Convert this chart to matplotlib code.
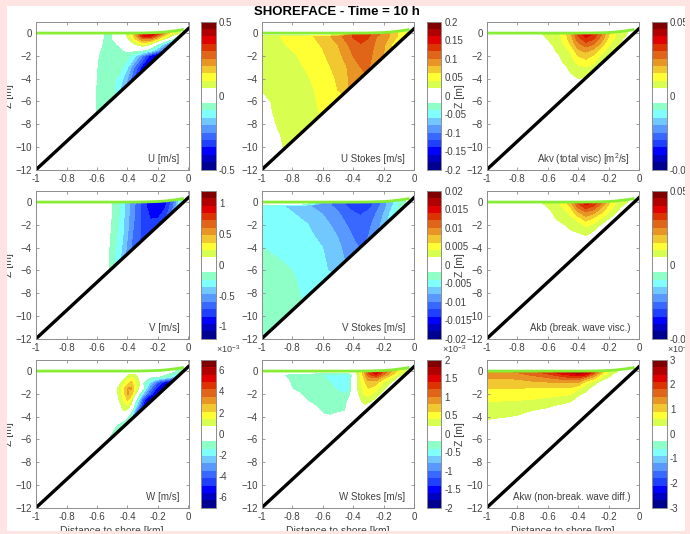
import numpy as np
import matplotlib
matplotlib.use("Agg")
import matplotlib.pyplot as plt
from matplotlib.cm import ScalarMappable
from matplotlib.colors import BoundaryNorm, ListedColormap
from matplotlib.patches import Polygon, Rectangle

plt.rcParams['font.family'] = ['Liberation Sans', 'DejaVu Sans']
plt.rcParams['mathtext.default'] = 'regular'

# colours of the 20 bands, bottom to top
band_colors = ['#000090', '#0000c0', '#0000ff', '#2040ff', '#3868ff', '#5898ff', '#70c8ff',
               '#80ffff', '#8fffc8', '#ffffff', '#ffffff', '#d8ff50', '#ffff33', '#f2c830',
               '#e89525', '#e06518', '#dd3300', '#e00000', '#b00000', '#800000']

# surface and bottom lines
surf_x = [-1, -0.8, -0.6, -0.4, -0.3, -0.2, -0.15, -0.1, -0.05, -0.04]
surf_z = [0, 0, 0, 0, 0.01, 0.05, 0.1, 0.18, 0.27, 0.3]
bottom_x = [-1, 0]
bottom_z = [-12, 0.4]

u_x = [-0.65, -0.6, -0.55, -0.5, -0.45, -0.4, -0.35, -0.3, -0.25, -0.2, -0.15, -0.1, -0.05, 0]
u_z = [0, -0.25, -0.5, -1, -1.5, -2, -3, -4, -5, -6, -7]
u_vals = [
    [0, 0, -1.1, -1.0, 0, 1.3, 4, 7.5, 8, 6.5, 4, 2, 1, 0],
    [0, -0.1, -1.15, -1.0, -0.3, 1.1, 3.5, 7, 7.2, 5, 2.5, 0.5, -3, -5],
    [0, -0.3, -1.2, -1.0, -0.5, 0.9, 3, 5, 5, 3, 1, -1.5, -5, -7],
    [0, -0.5, -1.3, -1.2, -0.9, 0, 1, 2, 1, -1.6, -4, -7, -9, -10],
    [0, -0.7, -1.4, -1.3, -1.2, -0.8, -0.8, -1.1, -2, -4, -6.5, -9, -10],
    [0, -0.9, -1.5, -1.4, -1.5, -1.6, -2.8, -5, -7.5, -9.5, -10],
    [0, -1, -1.5, -1.5, -1.6, -2.9, -5.3, -7.7, -10],
    [0, -1.1, -1.5, -1.6, -2.4, -4, -6.5, -9, -10],
    [0, -1.2, -1.5, -1.7, -3, -5, -8, -10],
    [0, -1.3, -1.4, -1.7, -3],
    [0, -1.2, -1.3],
]

us_x = [-1, -0.9, -0.8, -0.7, -0.6, -0.5, -0.4, -0.35, -0.3, -0.25, -0.2, -0.15, -0.1, -0.05, 0]
us_z = [-0.15, -0.3, -1, -2, -3, -4, -5, -6, -7, -8, -9, -10, -12]
us_vals = [
    [0, 0, 0, 0, 0, 1, 6.1, 6.6, 6.3, 5.3, 4.6, 3.8, 2.8, 1.8, 1],
    [1.9, 1.9, 2.4, 2.7, 3.4, 4.55, 6.1, 6.5, 6.1, 5.05, 4.5, 3.8, 2.7, 1.8, 1],
    [1.8, 1.75, 2.2, 2.6, 3.1, 4, 5.5, 5.9, 5.6, 4.8, 4.2, 3, 2, 1, 0],
    [1.6, 1.6, 1.85, 2.3, 2.85, 3.64, 5, 5.5, 5.3, 4.6, 3.9, 3, 2, 1, 0],
    [1.4, 1.45, 1.7, 2.1, 2.65, 3.33, 4.45, 5, 5.05, 4.5, 3.9, 3, 2, 1, 0],
    [1.25, 1.35, 1.55, 1.9, 2.45, 3.13, 4.4, 4.8, 5, 4.5],
    [1.03, 1.25, 1.45, 1.75, 2.3, 3, 4.4],
    [0.7, 1.2, 1.4, 1.7, 2.2, 3],
    [0.6, 1.15, 1.35, 1.65, 2.1, 3],
    [0.4, 1.03, 1.3, 1.6, 2.1],
    [0.2, 0.9, 1.3, 1.6],
    [0.1, 0.8, 1.3],
    [0, 0.7, 1.3],
]

akv_x = [-0.7, -0.65, -0.6, -0.55, -0.5, -0.45, -0.4, -0.35, -0.3, -0.25, -0.2, -0.15, -0.1, -0.05, 0]
akv_z = [0, -0.5, -1, -1.5, -2, -2.5, -3, -3.5, -4, -4.5]
akv_vals = [
    [0, 0.95, 1.3, 1.6, 2.3, 3.8, 6.5, 7.8, 7.1, 5.3, 3.2, 2, 1.3, 0.7, 0],
    [0, 0.3, 1.05, 1.4, 2.1, 3.5, 5.5, 6.7, 6.1, 4.5, 2.7, 1.7, 0.9, 0],
    [0, 0, 0.7, 1.2, 1.85, 3, 4.7, 5.5, 5, 3.6, 2.1, 1.3, 0.3, 0],
    [0, 0, 0.3, 1, 1.5, 2.2, 3.85, 4.3, 3.8, 2.6, 1.5, 0.7, 0],
    [0, 0, 0, 0.6, 1.3, 1.8, 3, 3.4, 2.9, 1.75, 0.8, 0],
    [0, 0, 0, 0, 1.05, 1.55, 2.3, 2.7, 2.3, 1.05, 0],
    [0, 0, 0, 0, 0.6, 1.3, 1.8, 1.9, 1.6, 0.3, 0],
    [0, 0, 0, 0, 0, 1, 1.4, 1.3, 0.9, 0],
    [0, 0, 0, 0, 0, 0.5, 1, 0.8, 0],
    [0, 0, 0, 0, 0, 0, 0.5, 0],
]

v_x = [-0.55, -0.5, -0.45, -0.4, -0.35, -0.3, -0.25, -0.2, -0.15, -0.1, -0.05, 0]
v_z = [0, -0.5, -1, -1.5, -2, -3, -4, -5, -6]
v_vals = [
    [0, -1.05, -2.05, -3.6, -5, -6.4, -7.5, -8, -7.2, -5.5, -2, -0.5],
    [0, -1.1, -2.1, -3.65, -5.05, -6.4, -7.5, -7.8, -7, -5, -2, -0.5],
    [0, -1.15, -2.1, -3.7, -5.1, -6.4, -7.2, -7.4, -6.6, -4.5, -2, -0.5],
    [0, -1.2, -2.15, -3.75, -5.2, -6.35, -7, -6.95, -6, -4],
    [-0.1, -1.25, -2.2, -3.8, -5.3, -6.3, -6.8, -6.5, -5.5, -4],
    [-0.2, -1.4, -2.35, -4, -5.6, -6.2, -6.5],
    [-0.3, -1.55, -2.6, -4.3, -5.9, -6.2],
    [-0.35, -1.7, -2.9, -4.5],
    [-0.4, -1.75, -3],
]

vs_x = [-1, -0.9, -0.8, -0.7, -0.6, -0.5, -0.45, -0.4, -0.35, -0.3, -0.25, -0.2, -0.15, -0.1, -0.05, 0]
vs_z = [-0.15, -0.3, -1, -2, -3, -4, -5, -6, -7, -8, -9, -10, -12]
vs_vals = [
    [0, 0, 0, -1, -4.6, -5.3, -6, -6.4, -6.6, -6.4, -5.6, -4.5, -3.3, -2, -1, 0],
    [-2.5, -2.8, -3.25, -3.9, -4.6, -5.3, -6, -6.4, -6.6, -6.4, -5.6, -4.5, -3.3, -2, -1, 0],
    [-2.4, -2.7, -2.95, -3.4, -4.05, -4.9, -5.35, -5.9, -6.1, -5.75, -5, -4, -2.7, -1.5, -1, 0],
    [-2.3, -2.45, -2.7, -2.97, -3.55, -4.45, -4.95, -5.4, -5.6, -5.3, -4.5, -3.6, -2.4, -1.3, -1, 0],
    [-2.15, -2.25, -2.5, -2.8, -3.25, -4.05, -4.6, -5.05, -5.25, -5, -4.2, -3.4],
    [-2, -2.1, -2.3, -2.7, -3, -3.75, -4.3, -4.75, -5.1, -4.8],
    [-1.85, -1.98, -2.15, -2.6, -2.9, -3.55, -4.1, -4.6],
    [-1.7, -1.8, -2, -2.5, -2.8, -3.4],
    [-1.6, -1.7, -1.85, -2.35, -2.75],
    [-1.5, -1.6, -1.75, -2.25, -2.7],
    [-1.4, -1.55, -1.7, -2.2],
    [-1.3, -1.5, -1.6],
    [-1.05, -1.4],
]

akb_x = akv_x
akb_z = [0, -0.5, -1, -1.5, -2, -2.5, -3, -3.5]
akb_vals = [
    [0, 0.95, 1.3, 1.7, 2.4, 3.8, 6.3, 7.8, 7.1, 5.3, 3.2, 2, 1.3, 0.7, 0],
    [0, 0.3, 0.95, 1.45, 2, 2.9, 5, 6.2, 5.5, 4, 2.6, 1.5, 0.5, 0],
    [0, 0, 0.5, 1.2, 1.6, 2.1, 3.7, 4.5, 4.1, 2.9, 1.8, 0.9, 0],
    [0, 0, 0, 0.95, 1.3, 1.6, 2.3, 3.4, 2.6, 1.9, 0.9, 0.3, 0],
    [0, 0, 0, 0.5, 0.9, 1.25, 1.6, 2.2, 1.85, 0.9, 0.3, 0],
    [0, 0, 0, 0, 0.4, 0.95, 1.15, 1.5, 1.05, 0.3, 0],
    [0, 0, 0, 0, 0, 0.4, 0.7, 0.95, 0.5, 0],
    [0],
]

w_x = [-0.6, -0.55, -0.5, -0.475, -0.45, -0.425, -0.4, -0.375, -0.35, -0.325, -0.3, -0.275,
       -0.25, -0.225, -0.2, -0.15, -0.1, -0.05, 0]
w_z = [0, -0.5, -1, -1.5, -2, -2.5, -3, -3.5, -4, -5, -6, -6.5]
w_vals = [
    [0, 0, 0, 0, 0, 0, 0, 0, 0, 0, 0, 0, 0, 0, 0, -0.3, -0.9, -1.5, -2],
    [0, 0, 0, 0, 0, 0.3, 1.3, 1.9, 1.5, 0.6, 0, -0.3, -0.9, -1.05, -1.05, -1.7, -3, -8, -10],
    [0, 0, 0, 0, 0.6, 1.7, 2.4, 3.2, 2.2, 1.1, -1, -2, -3.3, -4.5, -6, -8, -10],
    [0, 0, 0, 0.5, 1.6, 2.6, 4, 4.2, 2.4, 1, -0.7, -3, -4.7, -6.3, -7.6, -10],
    [0, 0, 0, 0.6, 1.5, 2.5, 4.2, 3.5, 1.3, -1, -3, -5, -6.3, -7.7, -9.5, -10],
    [0, 0, 0, 0.2, 1.2, 2.2, 3.1, 1.9, -0.6, -3, -6, -8, -10],
    [0, 0, 0, 0, 0.7, 1.6, 2, 0.8, -2, -4.5, -7, -9.5, -10],
    [0, 0, 0, 0, 0.1, 1, 0.4, -0.8, -4, -7, -10],
    [0, 0, -0.1, -0.2, -0.3, -0.5, -1, -2.6, -4.5, -8, -10],
    [0, -0.2, -0.8, -1.2, -1.7, -2, -3],
    [0, -0.8, -1.5],
    [0],
]

ws_x = [-0.9, -0.85, -0.8, -0.7, -0.6, -0.55, -0.5, -0.45, -0.425, -0.4, -0.375, -0.35, -0.325,
        -0.3, -0.25, -0.2, -0.15, -0.1, -0.05, 0]
ws_z = [0, -0.3, -0.6, -1, -1.5, -2, -2.5, -3, -3.5, -4, -4.5]
ws_vals = [
    [0, 0, 0, 0, 0, 0, 0, 0, 0, 0, 1.1, 2.5, 4, 6.5, 8.2, 6, 4, 2.5, 1, 0],
    [-0.6, -1.1, -1.3, -1.6, -2.05, -2.2, -2.3, -2.4, -2.2, -0.5, 1, 2.2, 3.7, 5.7, 7, 5, 3.3, 1.6, 0],
    [-0.4, -0.9, -1.25, -1.55, -1.9, -2.2, -2.4, -2.5, -2.3, -0.4, 1, 2.1, 3.3, 4.6, 5, 3.3, 2, 0.5, 0],
    [0, -0.7, -1.15, -1.45, -1.8, -2, -2.3, -2.5, -2.2, -0.3, 0.9, 1.9, 2.8, 3.7, 3.4, 1.9, 1, 0],
    [0, -0.3, -1.05, -1.35, -1.65, -1.85, -2.1, -2.4, -2.1, -0.2, 0.9, 1.8, 2.4, 3, 2.4, 1.2, 0.3, 0],
    [0, 0, -0.7, -1.25, -1.5, -1.7, -1.9, -2, -1.5, -0.1, 0.7, 1.4, 2.1, 2.3, 1.6, 0.4, 0],
    [0, 0, -0.2, -1.1, -1.35, -1.5, -1.6, -1.5, -0.8, 0, 0.3, 1, 1.7, 1.6, 0.7, 0],
    [0, 0, 0, -0.8, -1.25, -1.3, -1.35, -1.2, -0.4, 0, 0, 0.5, 0.9, 0.5, 0],
    [0, 0, 0, -0.3, -1.1, -1.2, -1.15, -1, 0],
    [0, 0, 0, 0, -0.9, -0.95, -0.7, -0.3, 0],
    [0],
]

akw_x = [-1, -0.9, -0.8, -0.7, -0.6, -0.5, -0.45, -0.4, -0.35, -0.3, -0.25, -0.2, -0.15, -0.1]
akw_z = [0, -0.3, -0.6, -1, -1.5, -2, -2.5, -3, -3.5, -4, -4.5, -5]
akw_vals = [
    [4.6, 4.8, 5.3, 5.9, 6.8, 8.2, 8.8, 9.2, 8.6, 7, 4.2, 2, 1.2, 0],
    [4.3, 4.4, 4.6, 5.2, 5.8, 6.9, 7.3, 7.9, 7.2, 5, 2.8, 1.5, 0.4, 0],
    [4.05, 4.05, 4.15, 4.5, 4.9, 5.5, 5.8, 5.8, 4.6, 3.4, 1.9, 0.8, 0],
    [3.6, 3.6, 3.6, 3.8, 3.9, 4, 4, 4, 2.4, 1.6, 0.4, 0],
    [3, 3, 3, 2.95, 2.9, 2.85, 2.85, 2.2, 1.5, 0.5, 0],
    [2.5, 2.5, 2.5, 2.5, 2.4, 2.2, 2.1, 1.3, 0.7, 0],
    [2.1, 2.1, 2.05, 1.98, 1.75, 1.6, 1.3, 0.5, 0],
    [1.8, 1.7, 1.65, 1.5, 1.2, 0.8, 0.5, 0],
    [1.5, 1.4, 1.3, 0.95, 0.7, 0.3, 0],
    [1.2, 1.08, 0.9, 0.5, 0.3, 0],
    [0.8, 0.5, 0.3, 0],
    [0],
]

titles = ['U [m/s]', 'U Stokes [m/s]', 'Akv (total visc) [m$^2$/s]',
          'V [m/s]', 'V Stokes [m/s]', 'Akb (break. wave visc.)',
          'W [m/s]', 'W Stokes [m/s]', 'Akw (non-break. wave diff.)']
vmaxs = [0.5, 0.2, 0.05, 1.2, 0.02, 0.05, 7, 2, 3]
cbar_ticks = [[-0.5, 0, 0.5],
              [-0.2, -0.15, -0.1, -0.05, 0, 0.05, 0.1, 0.15, 0.2],
              [-0.05, 0, 0.05],
              [-1, -0.5, 0, 0.5, 1],
              [-0.02, -0.015, -0.01, -0.005, 0, 0.005, 0.01, 0.015, 0.02],
              [-0.05, 0, 0.05],
              [-6, -4, -2, 0, 2, 4, 6],
              [-2, -1.5, -1, -0.5, 0, 0.5, 1, 1.5, 2],
              [-3, -2, -1, 0, 1, 2, 3]]
fields = [(u_x, u_z, u_vals), (us_x, us_z, us_vals), (akv_x, akv_z, akv_vals),
          (v_x, v_z, v_vals), (vs_x, vs_z, vs_vals), (akb_x, akb_z, akb_vals),
          (w_x, w_z, w_vals), (ws_x, ws_z, ws_vals), (akw_x, akw_z, akw_vals)]

# pixel boxes of the panels
W, H = 690, 534
col_left = [36, 261.7, 486.7]
col_width = 152.5
cbar_left = [201, 426.7, 652]
cbar_width = 14.5
row_top = [21.7, 190.7, 359.7]
row_height = 148
text_color = '#404040'
edge_color = '#8c8c8c'


def box(x0, y0, w, h):
    return [x0 / W, 1 - (y0 + h) / H, w / W, h / H]


def fill_rows(rows, n):
    # rows may stop early once they are below the bottom, the last value is kept
    return np.array([r + [r[-1]] * (n - len(r)) for r in rows], dtype=float)


fig = plt.figure(figsize=(W / 100, H / 100), dpi=100, facecolor='white')
levels = np.linspace(-10, 10, 21)
bottom_end = np.interp(surf_x[-1], bottom_x, bottom_z)
wet = np.column_stack([surf_x + [surf_x[-1], bottom_x[0]], surf_z + [bottom_end, bottom_z[0]]])

for i in range(9):
    row, col = i // 3, i % 3
    ax = fig.add_axes(box(col_left[col], row_top[row], col_width, row_height))
    x, z, vals = fields[i]
    # first row is copied up to reach the raised surface near the shore
    grid = fill_rows(vals, len(x))
    grid = np.vstack([grid[0], grid])
    zz = np.array([0.5] + z)
    cs = ax.contourf(x, zz, np.clip(grid, -9.99, 9.99), levels=levels, colors=band_colors)
    cs.set_clip_path(Polygon(wet, transform=ax.transData))
    ax.plot(surf_x, surf_z, color='#88ee33', lw=2)
    ax.plot(bottom_x, bottom_z, color='black', lw=2.4)

    ax.set_xlim(-1, 0)
    ax.set_ylim(-12, 1)
    ax.set_xticks(np.arange(-1, 0.01, 0.2))
    ax.set_xticklabels(['-1', '-0.8', '-0.6', '-0.4', '-0.2', '0'])
    ax.set_yticks(np.arange(-12, 0.01, 2))
    ax.tick_params(direction='in', top=True, right=True, length=2, width=0.6,
                   color=edge_color, labelsize=7, labelcolor=text_color, pad=3)
    for s in ax.spines.values():
        s.set_color(edge_color)
        s.set_linewidth(0.7)
    ax.text(-0.06, -11.1, titles[i], ha='right', va='center', fontsize=7, color=text_color)
    if col != 1:
        ax.set_ylabel('Z [m]', fontsize=7.5, color=text_color, labelpad=1)
    if row == 2:
        ax.set_xlabel('Distance to shore [km]', fontsize=7.5, color=text_color, labelpad=3)

    cax = fig.add_axes(box(cbar_left[col], row_top[row], cbar_width, row_height))
    norm = BoundaryNorm(levels * vmaxs[i] / 10, 20)
    sm = ScalarMappable(norm=norm, cmap=ListedColormap(band_colors))
    cb = fig.colorbar(sm, cax=cax, ticks=cbar_ticks[i], format='%g')
    cb.minorticks_off()
    cb.outline.set_edgecolor(edge_color)
    cb.outline.set_linewidth(0.7)
    cax.tick_params(length=0, labelsize=7, labelcolor=text_color, pad=2.5)
    if row == 2:
        cax.text(1.05, 1.03, '×10$^{-3}$', transform=cax.transAxes, fontsize=6.5,
                 color=text_color, ha='left', va='bottom')

fig.text(337 / W, 1 - 12 / H, 'SHOREFACE - Time = 10 h', ha='center', va='center',
         fontsize=9.5, fontweight='bold', color='black')

# pink page border on top of everything, it cuts the x labels
pink = '#ffe4e4'
for x0, y0, w, h in [(0, 0, W, 6), (0, 531, W, 3), (0, 0, 7, H), (685, 0, 5, H)]:
    fig.add_artist(Rectangle((x0 / W, 1 - (y0 + h) / H), w / W, h / H, transform=fig.transFigure,
                             facecolor=pink, edgecolor='none', zorder=20))

fig.savefig('out.png', dpi=100)
